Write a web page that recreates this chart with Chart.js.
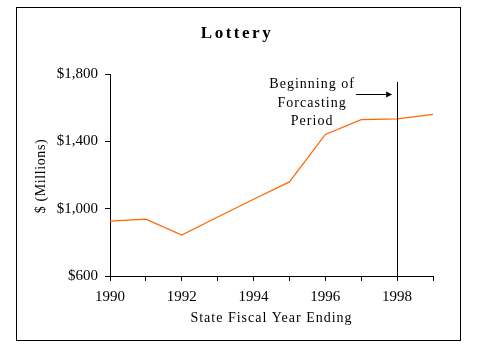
<!DOCTYPE html>
<html>
<head>
<meta charset="utf-8">
<script src="https://cdn.jsdelivr.net/npm/chart.js@4/dist/chart.umd.min.js"></script>
<style>
  html, body { margin: 0; padding: 0; background: #fff; }
  canvas { display: block; }
</style>
</head>
<body>
<canvas id="lotteryChart" width="479" height="359"></canvas>
<script>
// values ($ millions)
const years = [1990, 1991, 1992, 1993, 1994, 1995, 1996, 1997, 1998, 1999];
const revenue = [926, 938, 843, 950, 1056, 1159, 1441, 1529, 1534, 1560];
const yTicks = [600, 1000, 1400, 1800];
const forecastStart = 1998;
const noteLines = ['Beginning of', 'Forcasting', 'Period'];

const serif = '"Liberation Serif", "Times New Roman", serif';

// frame, titles and the forecast marker
const decor = {
    id: 'decor',
    afterDraw(chart) {
        const { ctx, scales: { x, y } } = chart;
        ctx.save();
        ctx.strokeStyle = '#000';
        ctx.lineWidth = 1;
        ctx.strokeRect(16.5, 7.5, 444, 333);

        ctx.fillStyle = '#000';
        ctx.textAlign = 'center';
        ctx.textBaseline = 'alphabetic';

        ctx.font = 'bold 17px ' + serif;
        ctx.letterSpacing = '2.5px';
        ctx.fillText('Lottery', 237, 38);

        ctx.font = '14px ' + serif;
        ctx.letterSpacing = '1px';
        ctx.fillText('State Fiscal Year Ending', (x.left + x.right) / 2, 322);

        // note text
        const lx = x.getPixelForValue(forecastStart);
        noteLines.forEach((t, i) => ctx.fillText(t, lx - 85, 88 + i * 18.5));

        ctx.save();
        ctx.letterSpacing = '0.6px';
        ctx.translate(45, (y.top + y.bottom) / 2 + 1);
        ctx.rotate(-Math.PI / 2);
        ctx.fillText('$ (Millions)', 0, 0);
        ctx.restore();

        // vertical line at start of forecast
        const vx = Math.round(lx) + 0.5;
        ctx.beginPath();
        ctx.moveTo(vx, 82);
        ctx.lineTo(vx, y.bottom);
        ctx.stroke();

        // arrow
        ctx.beginPath();
        ctx.moveTo(lx - 41, 94.5);
        ctx.lineTo(lx - 9, 94.5);
        ctx.stroke();
        ctx.beginPath();
        ctx.moveTo(lx - 5, 94.5);
        ctx.lineTo(lx - 11, 91.5);
        ctx.lineTo(lx - 11, 97.5);
        ctx.closePath();
        ctx.fill();
        ctx.restore();
    }
};

new Chart(document.getElementById('lotteryChart'), {
    type: 'line',
    data: {
        datasets: [{
            data: years.map((yr, i) => ({ x: yr, y: revenue[i] })),
            borderColor: '#ff6600',
            borderWidth: 1.2,
            pointRadius: 0,
            tension: 0,
            fill: false
        }]
    },
    options: {
        responsive: false,
        animation: false,
        layout: { padding: { left: 0, top: 74, right: 46, bottom: 0 } },
        plugins: { legend: { display: false }, tooltip: { enabled: false } },
        scales: {
            x: {
                type: 'linear',
                min: years[0],
                max: years[years.length - 1],
                afterBuildTicks: s => { s.ticks = years.map(v => ({ value: v })); },
                afterFit: s => { s.height = 83; },
                grid: { drawOnChartArea: false, drawTicks: true, tickLength: 5, color: '#000' },
                border: { color: '#000', width: 1 },
                ticks: {
                    color: '#000',
                    padding: 7,
                    maxRotation: 0,
                    autoSkip: false,
                    font: { family: serif, size: 15 },
                    callback: v => (v % 2 === 0 ? String(v) : '')
                }
            },
            y: {
                min: yTicks[0],
                max: yTicks[yTicks.length - 1],
                afterBuildTicks: s => { s.ticks = yTicks.map(v => ({ value: v })); },
                afterFit: s => { s.width = 110; },
                grid: { drawOnChartArea: false, drawTicks: true, tickLength: 5, color: '#000' },
                border: { color: '#000', width: 1 },
                ticks: {
                    color: '#000',
                    padding: 7,
                    font: { family: serif, size: 15 },
                    callback: v => '$' + v.toLocaleString('en-US')
                }
            }
        }
    },
    plugins: [decor]
});
</script>
</body>
</html>
